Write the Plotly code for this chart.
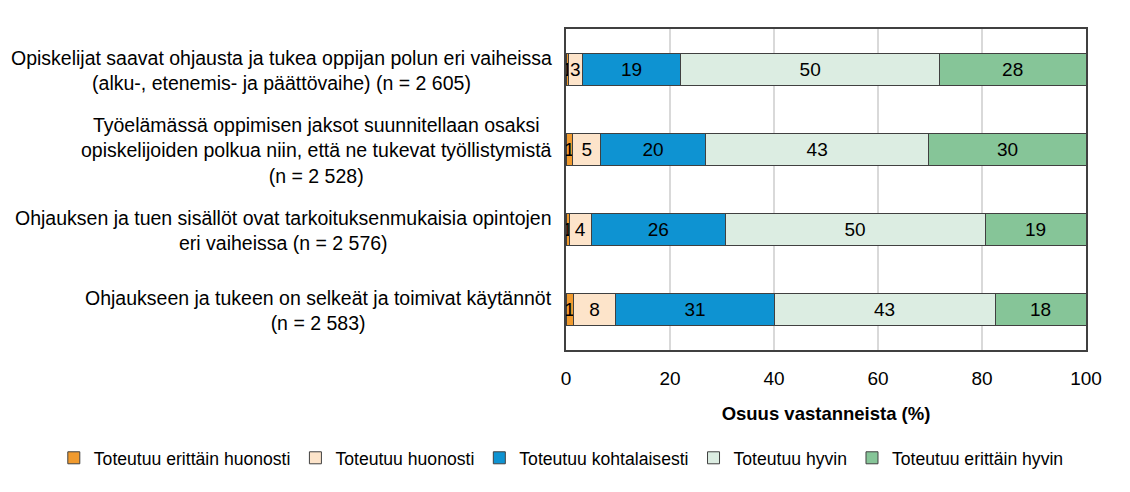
"""
Pinottu vaakapylväskuvio: ohjaus ja tuki, osuus vastanneista (%).
"""

import plotly.graph_objects as go

# kysymykset ylhäältä alas
kysymykset = [
    "Opiskelijat saavat ohjausta ja tukea oppijan polun eri vaiheissa<br>(alku-, etenemis- ja päättövaihe) (n = 2 605)",
    "Työelämässä oppimisen jaksot suunnitellaan osaksi<br>opiskelijoiden polkua niin, että ne tukevat työllistymistä<br>(n = 2 528)",
    "Ohjauksen ja tuen sisällöt ovat tarkoituksenmukaisia opintojen<br>eri vaiheissa (n = 2 576)",
    "Ohjaukseen ja tukeen on selkeät ja toimivat käytännöt<br>(n = 2 583)",
]

sarjat = [
    "Toteutuu erittäin huonosti",
    "Toteutuu huonosti",
    "Toteutuu kohtalaisesti",
    "Toteutuu hyvin",
    "Toteutuu erittäin hyvin",
]

# osuudet (%) kuvasta arvioituna
erittain_huonosti = [0.5, 1.3, 0.6, 1.4]
huonosti = [2.6, 5.4, 4.3, 8.2]
kohtalaisesti = [19.0, 20.1, 25.7, 30.4]
hyvin = [49.7, 43.0, 50.0, 42.5]
erittain_hyvin = [28.2, 30.2, 19.4, 17.5]

# pylväiden sisällä näkyvät pyöristetyt luvut
nimiot_erittain_huonosti = ["1", "1", "1", "1"]
nimiot_huonosti = ["3", "5", "4", "8"]
nimiot_kohtalaisesti = ["19", "20", "26", "31"]
nimiot_hyvin = ["50", "43", "50", "43"]
nimiot_erittain_hyvin = ["28", "30", "19", "18"]

arvot = [erittain_huonosti, huonosti, kohtalaisesti, hyvin, erittain_hyvin]
nimiot = [nimiot_erittain_huonosti, nimiot_huonosti, nimiot_kohtalaisesti,
          nimiot_hyvin, nimiot_erittain_hyvin]
varit = ["#F09A2E", "#FDE4CA", "#0E93D2", "#DCEDE2", "#86C598"]

FONTTI = "Liberation Sans, Arial, sans-serif"

fig = go.Figure()

for nimi, x, teksti, vari in zip(sarjat, arvot, nimiot, varit):
    fig.add_trace(
        go.Bar(
            y=kysymykset,
            x=x,
            name=nimi,
            orientation="h",
            text=teksti,
            textposition="inside",
            insidetextanchor="middle",
            textangle=0,
            textfont=dict(size=19, color="#000000", family=FONTTI),
            marker=dict(color=vari, line=dict(color="#404040", width=1)),
            hoverinfo="x+name",
        )
    )

# kysymystekstit keskitettyinä rivien vasemmalle puolelle
for k in kysymykset:
    fig.add_annotation(
        x=0,
        y=k,
        xref="paper",
        yref="y",
        text=k,
        showarrow=False,
        xanchor="right",
        yanchor="middle",
        align="center",
        xshift=-12,
        yshift=-1,
        font=dict(size=19.5, color="#000000", family=FONTTI),
    )

# sivun oma 8 px reunus siirtää kuvaa, marginaalit kompensoivat
fig.update_layout(
    barmode="stack",
    bargap=0.6,
    width=1130,
    height=492,
    margin=dict(l=558, r=52, t=21, b=150),
    paper_bgcolor="white",
    plot_bgcolor="white",
    font=dict(family=FONTTI, size=19, color="#000000"),
    uniformtext=dict(minsize=19, mode="show"),
    showlegend=True,
    legend=dict(
        orientation="h",
        x=-0.985,
        xanchor="left",
        y=-0.336,
        yanchor="middle",
        font=dict(size=17.6),
        itemwidth=30,
        traceorder="normal",
        tracegroupgap=0,
    ),
)

fig.update_xaxes(
    range=[0, 100],
    tickvals=[0, 20, 40, 60, 80, 100],
    showgrid=True,
    gridcolor="#D9D9D9",
    gridwidth=1.5,
    showline=True,
    linecolor="#404040",
    linewidth=1.5,
    mirror=True,
    zeroline=False,
    ticks="",
    ticklabelstandoff=10,
    tickfont=dict(size=19),
    title=dict(text="<b>Osuus vastanneista (%)</b>", font=dict(size=18.5), standoff=20),
)

fig.update_yaxes(
    autorange="reversed",
    showticklabels=False,
    showline=True,
    linecolor="#404040",
    linewidth=1.5,
    mirror=True,
    showgrid=False,
    ticks="",
)

fig.write_html("out.html")
